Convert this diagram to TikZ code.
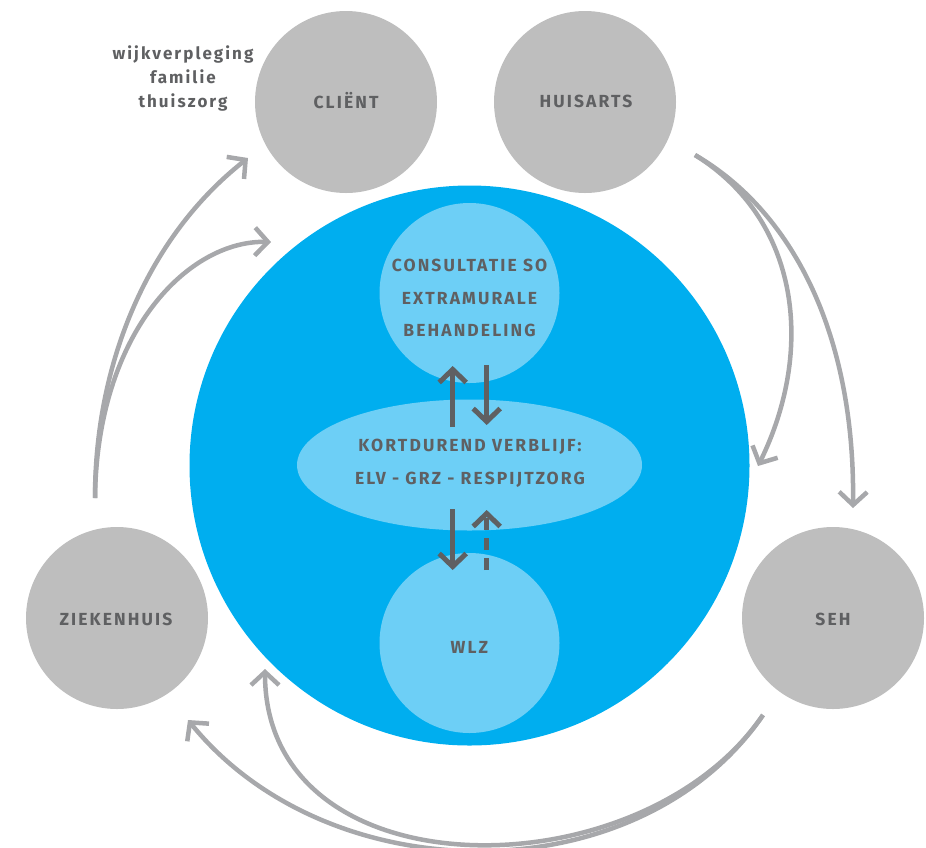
\documentclass[tikz,border=0pt]{standalone}
\usepackage{fontspec}
\setmainfont{Fira Sans}[LetterSpace=12]
\usetikzlibrary{arrows.meta,shapes.geometric}
\definecolor{bigblue}{HTML}{00AEEF}
\definecolor{lightblue}{HTML}{6DCFF6}
\definecolor{circgray}{HTML}{BEBEBE}
\definecolor{arrgray}{HTML}{A7A8AB}
\definecolor{darkgray}{HTML}{5F6062}
\tikzset{
  txt/.style={text=darkgray,font=\bfseries\fontsize{17.5}{32.5}\selectfont,align=center},
  graycirc/.style={circle,fill=circgray,minimum size=182pt,inner sep=0pt,txt},
  lightcirc/.style={circle,fill=lightblue,minimum size=180pt,inner sep=0pt,txt},
  grayarrow/.style={draw=arrgray,line width=4.5pt,-{Straight Barb[length=13pt,width=28pt,line width=4.5pt]}},
  darkarrow/.style={draw=darkgray,line width=5pt,-{Straight Barb[length=13pt,width=27pt,line width=5pt]}}
}
\begin{document}
\begin{tikzpicture}[x=1pt,y=-1pt]
\useasboundingbox (0,0) rectangle (926,847);
% big blue circle
\node[circle,fill=bigblue,minimum size=560pt,inner sep=0pt] (big) at (469.5,465.5) {};
% inner shapes
\node[lightcirc] (consult) at (469.5,293) {};
\node[txt] (consulttxt) at (469.5,298) {CONSULTATIE SO\\EXTRAMURALE\\BEHANDELING};
\node[ellipse,fill=lightblue,minimum width=345pt,minimum height=131pt,inner sep=0pt] (kort) at (469.5,465) {};
\node[txt] (korttxt) at (470,463.5) {KORTDUREND VERBLIJF:\\ELV - GRZ - RESPIJTZORG};
\node[lightcirc] (wlz) at (469.5,643) {};
\node[txt] (wlztxt) at (469.5,647) {WLZ};
% outer gray circles
\node[graycirc] (client) at (346,102) {};
\node[txt] (clienttxt) at (346,101) {CLIËNT};
\node[graycirc] (huisarts) at (585,102) {};
\node[txt] (huisartstxt) at (586,101) {HUISARTS};
\node[graycirc] (zkh) at (117,618) {};
\node[txt] (zkhtxt) at (116,619) {ZIEKENHUIS};
\node[graycirc] (seh) at (833,618) {};
\node[txt] (sehtxt) at (833,619) {SEH};
\node[txt,font=\bfseries\fontsize{17}{24}\selectfont] (label) at (183,78.5) {wijkverpleging\\familie\\thuiszorg};
% connector end points
\coordinate (zkhout) at (95,498);
\coordinate (clientin) at (248,158);
\coordinate (bigin1) at (271,242);
\coordinate (huisout) at (695,155);
\coordinate (bigin2) at (758,466);
\coordinate (sehin) at (853,508);
\coordinate (sehout) at (763,715);
\coordinate (zkhin) at (188,720);
\coordinate (bigin3) at (265,669);
% gray curved arrows
\draw[grayarrow] (zkhout) .. controls (95,360) and (150,235) .. (clientin);
\draw[grayarrow] (zkhout) .. controls (97,330) and (190,240) .. (bigin1);
\draw[grayarrow] (huisout) .. controls (790,210) and (855,330) .. (sehin);
\draw[grayarrow] (huisout) .. controls (800,220) and (815,350) .. (bigin2);
\draw[grayarrow] (sehout) .. controls (640,895) and (330,895) .. (zkhin);
\draw[grayarrow] (sehout) .. controls (640,895) and (265,895) .. (bigin3);
% dark arrows
\coordinate (a1s) at (452.7,427);
\coordinate (a1e) at (452.7,366);
\coordinate (a2s) at (486.7,365);
\coordinate (a2e) at (486.7,425);
\coordinate (a3s) at (452.7,509);
\coordinate (a3e) at (452.7,570);
\coordinate (a4s) at (486.7,570);
\coordinate (a4e) at (486.7,510);
\draw[darkarrow] (a1s) -- (a1e);
\draw[darkarrow] (a2s) -- (a2e);
\draw[darkarrow] (a3s) -- (a3e);
\draw[darkarrow,dash pattern=on 12pt off 8pt] (a4s) -- (a4e);
\end{tikzpicture}
\end{document}
